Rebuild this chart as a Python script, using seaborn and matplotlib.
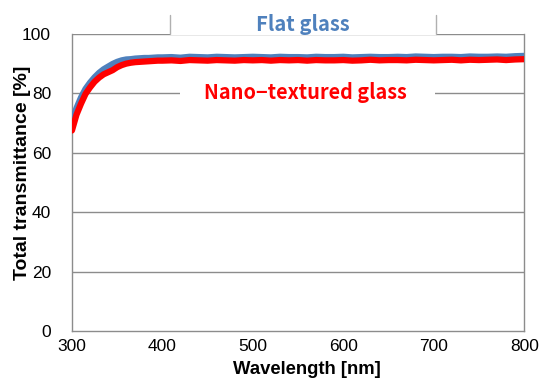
import numpy as np
import pandas as pd
import matplotlib
matplotlib.use("Agg")
import matplotlib.pyplot as plt
from matplotlib.patches import Rectangle
import seaborn as sns

# wavelength grid (nm)
wavelength = list(range(300, 400, 5)) + list(range(400, 801, 10))

flat_glass = [70.5, 75.0, 78.6, 81.5, 83.6, 85.4, 86.9, 88.1, 89.0, 89.9,
              90.6, 91.1, 91.4, 91.5, 91.7, 91.8, 91.9, 91.9, 92.0, 92.1,
              92.1, 92.2, 92.0, 92.3, 92.2, 92.1, 92.3, 92.2, 92.1, 92.2,
              92.3, 92.2, 92.1, 92.3, 92.2, 92.2, 92.1, 92.3, 92.2, 92.2,
              92.3, 92.1, 92.2, 92.3, 92.2, 92.2, 92.3, 92.2, 92.4, 92.3,
              92.2, 92.3, 92.3, 92.2, 92.4, 92.3, 92.3, 92.4, 92.3, 92.5,
              92.6]

nano_glass = [67.5, 72.8, 76.5, 79.8, 82.0, 83.9, 85.3, 86.4, 87.1, 87.8,
              88.8, 89.5, 90.0, 90.3, 90.5, 90.6, 90.7, 90.8, 90.9, 91.0,
              91.0, 91.1, 90.9, 91.2, 91.1, 91.0, 91.2, 91.1, 91.0, 91.2,
              91.1, 91.2, 91.0, 91.2, 91.1, 91.2, 91.0, 91.2, 91.1, 91.1,
              91.2, 91.0, 91.1, 91.3, 91.1, 91.2, 91.2, 91.1, 91.3, 91.2,
              91.1, 91.2, 91.3, 91.1, 91.3, 91.2, 91.3, 91.4, 91.2, 91.4,
              91.5]

df = pd.DataFrame({"Wavelength": wavelength * 2,
                   "T": flat_glass + nano_glass,
                   "Sample": ["Flat glass"] * len(wavelength) + ["Nano-textured glass"] * len(wavelength)})

sns.set_style("white")
plt.rcParams['font.family'] = ['Liberation Sans', 'DejaVu Sans']

fig = plt.figure(figsize=(5.41, 3.81), dpi=100)
ax = fig.add_axes([0.133, 0.131, 0.836, 0.78])

sns.lineplot(data=df, x="Wavelength", y="T", hue="Sample",
             palette={"Flat glass": "#4F81BD", "Nano-textured glass": "#FF0000"},
             linewidth=4.5, legend=False, ax=ax, zorder=5)

ax.set_xlim(300, 800)
ax.set_ylim(0, 100)
ax.set_xticks([300, 400, 500, 600, 700, 800])
ax.set_yticks([0, 20, 40, 60, 80, 100])
for y in [20, 40, 60, 80, 100]:
    ax.axhline(y, color="#8c8c8c", lw=1, zorder=1)
for s in ["left", "right", "bottom"]:
    ax.spines[s].set_color("#8c8c8c")
    ax.spines[s].set_linewidth(1)
ax.spines["top"].set_visible(False)
ax.tick_params(axis="y", length=0, pad=15, labelsize=12.5, labelcolor="black")
ax.tick_params(axis="x", length=0, pad=6, labelsize=12.5, labelcolor="black")

ax.set_xlabel("Wavelength [nm]", fontsize=13.3, fontweight="bold", color="black")
ax.set_ylabel("Total transmittance [%]", fontsize=14, fontweight="bold", color="black")
ax.xaxis.set_label_coords(0.52, -0.102)
ax.yaxis.set_label_coords(-0.09, 0.534)

# label boxes
ax.add_patch(Rectangle((408, 99.6), 295, 20, facecolor="white", edgecolor="none",
                       clip_on=False, zorder=3))
ax.plot([408, 408], [100, 106.4], color="#b0b0b0", lw=1, clip_on=False, zorder=3)
ax.plot([703, 703], [100, 106.4], color="#b0b0b0", lw=1, clip_on=False, zorder=3)
ax.text(555, 103.3, "Flat glass", color="#4F81BD", fontsize=14.5, fontweight="bold",
        ha="center", va="center", family=["Noto Sans CJK JP", "DejaVu Sans"], zorder=4)

ax.add_patch(Rectangle((419, 77), 282, 6, facecolor="white", edgecolor="none", zorder=3))
ax.text(558, 80.3, "Nano\u2212textured glass", color="#FF0000", fontsize=14.3, fontweight="bold",
        ha="center", va="center", family=["Noto Sans CJK JP", "DejaVu Sans"], zorder=4)

fig.savefig("out.png", dpi=100)
